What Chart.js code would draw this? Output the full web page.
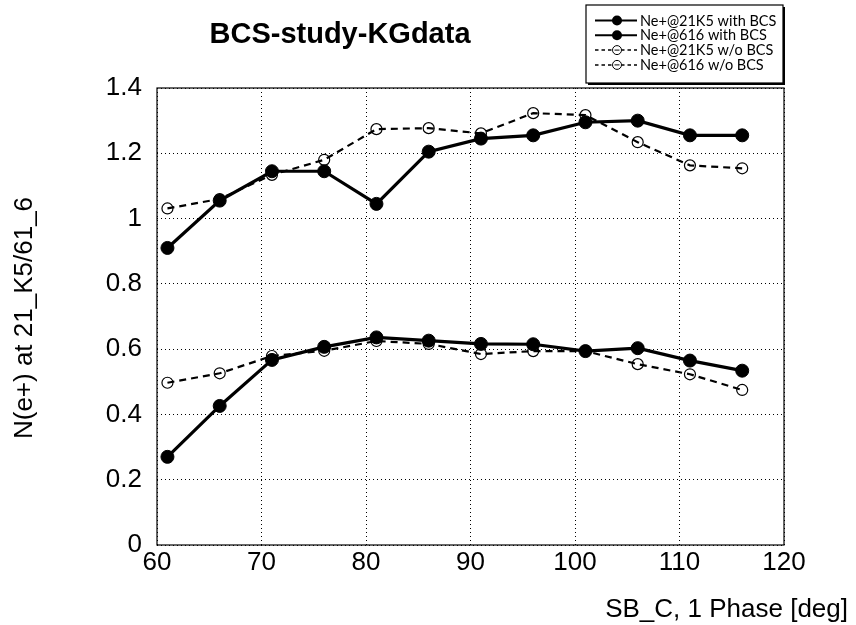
<!DOCTYPE html>
<html><head><meta charset="utf-8">
<script src="https://cdn.jsdelivr.net/npm/chart.js@4/dist/chart.umd.min.js"></script>
<style>html,body{margin:0;padding:0;background:#fff;}#wrap{width:856px;height:625px;}</style>
</head><body><div id="wrap"><canvas id="c" width="856" height="625"></canvas></div>
<script>
const phaseDeg = [61, 66, 71, 76, 81, 86, 91, 96, 101, 106, 111, 116];
const ne21K5WithBCS = [0.91, 1.055, 1.145, 1.145, 1.045, 1.205, 1.245, 1.255, 1.295, 1.30, 1.255, 1.255];
const ne616WithBCS  = [0.27, 0.426, 0.567, 0.607, 0.636, 0.626, 0.616, 0.615, 0.594, 0.603, 0.565, 0.534];
const ne21K5WoBCS   = [1.031, 1.06, 1.134, 1.18, 1.274, 1.277, 1.261, 1.323, 1.317, 1.234, 1.163, 1.154];
const ne616WoBCS    = [0.497, 0.526, 0.579, 0.595, 0.625, 0.616, 0.585, 0.594, 0.594, 0.554, 0.523, 0.475];
const seriesLabels = ['Ne+@21K5 with BCS', 'Ne+@616 with BCS', 'Ne+@21K5 w/o BCS', 'Ne+@616 w/o BCS'];
const xTickValues = [60, 70, 80, 90, 100, 110, 120];
const xTickLabels = ['60', '70', '80', '90', '100', '110', '120'];
const yTickValues = [0, 0.2, 0.4, 0.6, 0.8, 1, 1.2, 1.4];
const yTickLabels = ['0', '0.2', '0.4', '0.6', '0.8', '1', '1.2', '1.4'];
const chartTitle = 'BCS-study-KGdata';
const xAxisTitle = 'SB_C, 1 Phase [deg]';
const yAxisTitle = 'N(e+) at 21_K5/61_6';

const FONT = '"Liberation Sans", Arial, Helvetica, sans-serif';

function pts(ys) { return phaseDeg.map((x, i) => ({ x: x, y: ys[i] })); }

const solidStyle = {
  borderColor: '#000', backgroundColor: '#000', borderWidth: 3.2,
  pointRadius: 6.5, pointBackgroundColor: '#000', pointBorderColor: '#000', pointBorderWidth: 1,
  tension: 0, fill: false
};
const dashStyle = {
  borderColor: '#000', backgroundColor: 'rgba(0,0,0,0)', borderWidth: 2.2, borderDash: [7, 5],
  pointRadius: 5.5, pointBackgroundColor: 'rgba(0,0,0,0)', pointBorderColor: '#000', pointBorderWidth: 1.2,
  tension: 0, fill: false
};

const datasets = [
  Object.assign({ label: seriesLabels[0], data: pts(ne21K5WithBCS) }, solidStyle),
  Object.assign({ label: seriesLabels[1], data: pts(ne616WithBCS) }, solidStyle),
  Object.assign({ label: seriesLabels[2], data: pts(ne21K5WoBCS) }, dashStyle),
  Object.assign({ label: seriesLabels[3], data: pts(ne616WoBCS) }, dashStyle)
];

const decor = {
  id: 'decor',
  beforeDatasetsDraw(chart) {
    const { ctx, chartArea: a } = chart;
    ctx.save();
    ctx.strokeStyle = '#000';
    ctx.lineWidth = 1.2;
    ctx.strokeRect(a.left, a.top, a.right - a.left, a.bottom - a.top);
    ctx.restore();
  },
  afterDraw(chart) {
    const { ctx } = chart;
    ctx.save();
    ctx.fillStyle = '#000';
    // Title
    ctx.font = 'bold 29px ' + FONT;
    ctx.textAlign = 'center';
    ctx.textBaseline = 'alphabetic';
    ctx.fillText(chartTitle, 340, 43);
    // X axis title
    ctx.font = '26px ' + FONT;
    ctx.textAlign = 'right';
    ctx.fillText(xAxisTitle, 848, 617);
    // Y axis title
    ctx.save();
    ctx.translate(25, 318);
    ctx.rotate(-Math.PI / 2);
    ctx.textAlign = 'center';
    ctx.textBaseline = 'middle';
    ctx.font = '26px ' + FONT;
    ctx.fillText(yAxisTitle, 0, 0);
    ctx.restore();
    // Legend box
    const bx = 586, by = 5, bw = 197, bh = 78;
    ctx.fillStyle = '#fff';
    ctx.fillRect(bx, by, bw, bh);
    ctx.strokeStyle = '#000';
    ctx.lineWidth = 1.2;
    ctx.strokeRect(bx, by, bw, bh);
    ctx.lineWidth = 2;
    ctx.beginPath();
    ctx.moveTo(bx + bw + 1, by + 2); ctx.lineTo(bx + bw + 1, by + bh + 1); ctx.lineTo(bx + 2, by + bh + 1);
    ctx.stroke();
    chart.data.datasets.forEach((ds, i) => {
      const y = 20.5 + i * 14.8;
      ctx.save();
      ctx.strokeStyle = '#000';
      ctx.lineWidth = ds.borderDash ? 1.5 : 2;
      ctx.setLineDash(ds.borderDash ? [3.5, 3] : []);
      ctx.beginPath(); ctx.moveTo(595, y); ctx.lineTo(637, y); ctx.stroke();
      ctx.setLineDash([]);
      ctx.beginPath(); ctx.arc(617, y, ds.borderDash ? 4.5 : 5, 0, Math.PI * 2);
      if (ds.borderDash) { ctx.fillStyle = '#fff'; ctx.fill(); ctx.lineWidth = 1; ctx.stroke();
        ctx.beginPath(); ctx.moveTo(614.5, y); ctx.lineTo(619.5, y); ctx.stroke(); }
      else { ctx.fillStyle = '#000'; ctx.fill(); }
      ctx.restore();
      ctx.fillStyle = '#000';
      ctx.font = '14.5px Lato, "Open Sans", sans-serif';
      ctx.textAlign = 'left';
      ctx.textBaseline = 'middle';
      ctx.fillText(ds.label, 640, y + 0.5);
    });
    ctx.restore();
  }
};

new Chart(document.getElementById('c'), {
  type: 'line',
  data: { datasets: datasets },
  options: {
    responsive: false,
    devicePixelRatio: 1,
    animation: false,
    layout: { padding: { left: 0, right: 72, top: 88, bottom: 0 } },
    plugins: { legend: { display: false }, title: { display: false }, tooltip: { enabled: false } },
    scales: {
      x: {
        type: 'linear', min: 60, max: 120,
        afterBuildTicks: s => { s.ticks = xTickValues.map(v => ({ value: v })); },
        afterFit: s => { s.height = 80; },
        ticks: { color: '#000', font: { family: FONT, size: 26 }, padding: 2, maxRotation: 0,
          callback: (v) => xTickLabels[xTickValues.indexOf(v)] },
        grid: { color: '#000', lineWidth: 1, drawTicks: false },
        border: { display: false, dash: [1, 3] }
      },
      y: {
        type: 'linear', min: 0, max: 1.4,
        afterBuildTicks: s => { s.ticks = yTickValues.map(v => ({ value: v })); },
        afterFit: s => { s.width = 157; },
        ticks: { color: '#000', font: { family: FONT, size: 26 }, padding: 15,
          callback: (v) => { const i = yTickValues.findIndex(t => Math.abs(t - v) < 1e-9); return yTickLabels[i]; } },
        grid: { color: '#000', lineWidth: 1, drawTicks: false },
        border: { display: false, dash: [1, 3] }
      }
    }
  },
  plugins: [decor]
});
</script></body></html>
